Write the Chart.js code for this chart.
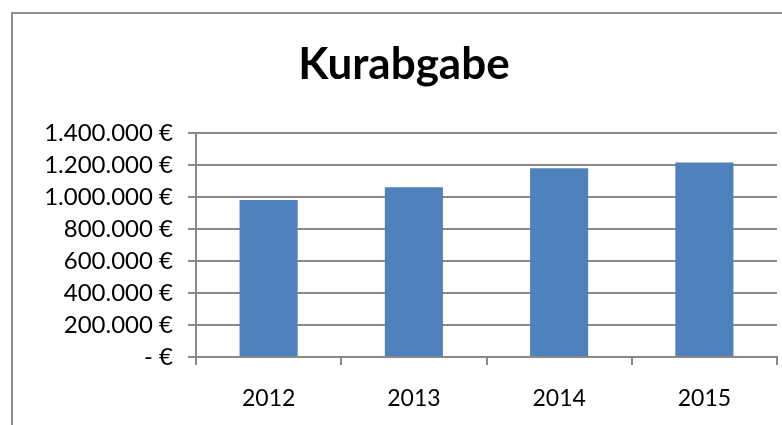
<!DOCTYPE html>
<html>
<head>
<meta charset="utf-8">
<script src="https://cdn.jsdelivr.net/npm/chart.js@4/dist/chart.umd.min.js"></script>
<style>
  html, body { margin: 0; padding: 0; background: #fff; overflow: hidden; width: 782px; height: 425px; }
  #frame { position: absolute; left: 11px; top: 12px; width: 800px; height: 430px;
           border-left: 2px solid #8e8e8e; border-top: 2px solid #8e8e8e; }
  #wrap { position: absolute; left: 0; top: 0; width: 782px; height: 411px; }
</style>
</head>
<body>
<div id="frame"><div id="wrap"><canvas id="c"></canvas></div></div>
<script>
const title = 'Kurabgabe';
const categories = ['2012', '2013', '2014', '2015'];
const values = [980000, 1060000, 1178000, 1215000];
const yTicks = [0, 200000, 400000, 600000, 800000, 1000000, 1200000, 1400000];

function fmtEuro(v) {
  if (v === 0) return '- €';
  return String(Math.round(v)).replace(/\B(?=(\d{3})+(?!\d))/g, '.') + ' €';
}

const grey = '#898989';
new Chart(document.getElementById('c'), {
  type: 'bar',
  data: {
    labels: categories,
    datasets: [{
      data: values,
      backgroundColor: '#4F81BD',
      barPercentage: 0.4,
      categoryPercentage: 1.0
    }]
  },
  options: {
    responsive: true,
    maintainAspectRatio: false,
    animation: false,
    layout: { padding: { left: 18, right: 18, top: 0, bottom: 0 } },
    plugins: {
      legend: { display: false },
      tooltip: { enabled: false },
      title: {
        display: true,
        text: title,
        color: '#000',
        font: { family: 'Lato', size: 44, weight: 'bold', lineHeight: 1.2 },
        padding: { top: 24, bottom: 42 }
      }
    },
    scales: {
      x: {
        offset: true,
        grid: { offset: true, drawOnChartArea: false, drawTicks: true, tickLength: 8, color: grey, lineWidth: 2 },
        border: { display: true, color: grey, width: 2 },
        ticks: { color: '#000', font: { family: 'Lato', size: 23 }, padding: 20 },
        afterFit: s => { s.height = 68; }
      },
      y: {
        min: 0,
        max: 1400000,
        afterBuildTicks: s => { s.ticks = yTicks.map(v => ({ value: v })); },
        grid: { drawTicks: true, tickLength: 8, color: grey, lineWidth: 2 },
        border: { display: true, color: grey, width: 2 },
        ticks: { color: '#000', font: { family: 'Lato', size: 24 }, padding: 15, callback: v => fmtEuro(v) },
        afterFit: s => { s.width = 165; }
      }
    }
  }
});
</script>
</body>
</html>
